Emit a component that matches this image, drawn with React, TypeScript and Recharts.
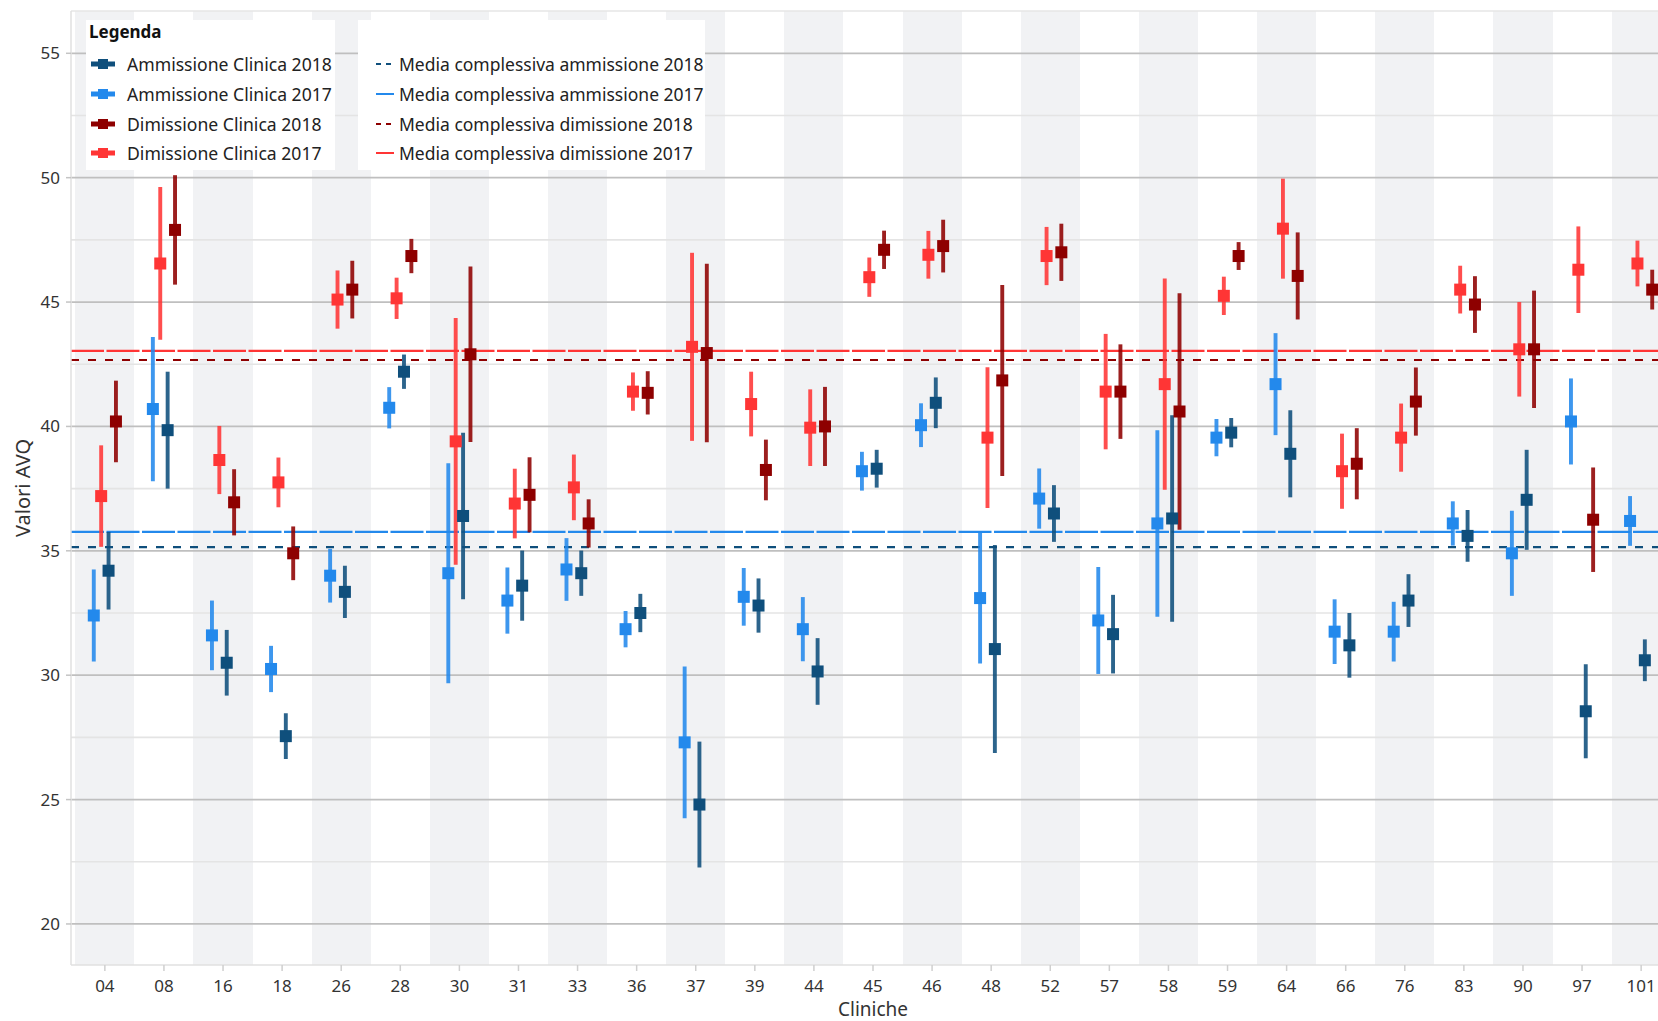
import React from "react";
import { ComposedChart, Scatter, ErrorBar, XAxis, YAxis, CartesianGrid, ReferenceLine } from "recharts";

const cliniche = ["04", "08", "16", "18", "26", "28", "30", "31", "33", "36", "37", "39", "44", "45", "46", "48", "52", "57", "58", "59", "64", "66", "76", "83", "90", "97", "101"];

// medie per clinica e semi-ampiezza dell'intervallo
const ammissione2017 = [32.4, 40.7, 31.6, 30.25, 34.0, 40.75, 34.1, 33.0, 34.25, 31.85, 27.3, 33.15, 31.85, 38.2, 40.05, 33.1, 37.1, 32.2, 36.1, 39.55, 41.7, 31.75, 31.75, 36.1, 34.9, 40.2, 36.2];
const ammissione2017Err = [1.85, 2.9, 1.4, 0.93, 1.08, 0.83, 4.42, 1.33, 1.26, 0.73, 3.05, 1.16, 1.29, 0.78, 0.88, 2.63, 1.21, 2.15, 3.75, 0.75, 2.05, 1.3, 1.2, 0.89, 1.71, 1.73, 1.0];
const ammissione2018 = [34.2, 39.85, 30.5, 27.55, 33.35, 42.2, 36.4, 33.6, 34.1, 32.5, 24.8, 32.8, 30.15, 38.3, 40.95, 31.05, 36.5, 31.65, 36.3, 39.75, 38.9, 31.2, 33.0, 35.6, 37.05, 28.55, 30.6];
const ammissione2018Err = [1.56, 2.35, 1.32, 0.92, 1.05, 0.69, 3.35, 1.41, 0.91, 0.77, 2.53, 1.09, 1.34, 0.76, 1.02, 4.18, 1.14, 1.58, 4.15, 0.59, 1.75, 1.3, 1.06, 1.04, 2.01, 1.89, 0.84];
const dimissione2017 = [37.2, 46.55, 38.65, 37.75, 45.1, 45.15, 39.4, 36.9, 37.55, 41.4, 43.2, 40.9, 39.95, 46.0, 46.9, 39.55, 46.85, 41.4, 41.7, 45.25, 47.95, 38.2, 39.55, 45.5, 43.1, 46.3, 46.55];
const dimissione2017Err = [2.04, 3.07, 1.37, 1.0, 1.17, 0.83, 4.96, 1.4, 1.32, 0.77, 3.78, 1.3, 1.54, 0.79, 0.96, 2.83, 1.17, 2.32, 4.25, 0.77, 2.01, 1.51, 1.37, 0.96, 1.9, 1.74, 0.92];
const dimissione2018 = [40.2, 47.9, 36.95, 34.9, 45.5, 46.85, 42.9, 37.25, 36.1, 41.35, 42.95, 38.25, 40.0, 47.1, 47.25, 41.85, 47.0, 41.4, 40.6, 46.85, 46.05, 38.5, 41.0, 44.9, 43.1, 36.25, 45.5];
const dimissione2018Err = [1.64, 2.2, 1.33, 1.08, 1.16, 0.69, 3.53, 1.51, 0.97, 0.87, 3.59, 1.22, 1.59, 0.77, 1.06, 3.84, 1.15, 1.9, 4.75, 0.56, 1.75, 1.43, 1.37, 1.14, 2.36, 2.1, 0.8];

const mediaAmmissione2018 = 35.15;
const mediaAmmissione2017 = 35.76;
const mediaDimissione2018 = 42.67;
const mediaDimissione2017 = 43.04;

const yTicks = [20, 25, 30, 35, 40, 45, 50, 55];
const yMinor = [22.5, 27.5, 32.5, 37.5, 42.5, 47.5, 52.5];

const BLU_SCURO = "#0f4f7c";
const BLU = "#2389ec";
const ROSSO_SCURO = "#8e0000";
const ROSSO = "#ff3535";
const FONT = "'Noto Sans', sans-serif";

const serie = [
  { nome: "Ammissione Clinica 2017", valori: ammissione2017, err: ammissione2017Err, colore: BLU, dodge: -0.1875 },
  { nome: "Dimissione Clinica 2017", valori: dimissione2017, err: dimissione2017Err, colore: ROSSO, dodge: -0.0625 },
  { nome: "Ammissione Clinica 2018", valori: ammissione2018, err: ammissione2018Err, colore: BLU_SCURO, dodge: 0.0625 },
  { nome: "Dimissione Clinica 2018", valori: dimissione2018, err: dimissione2018Err, colore: ROSSO_SCURO, dodge: 0.1875 },
];

const legendaPunti = [
  { nome: "Ammissione Clinica 2018", colore: BLU_SCURO },
  { nome: "Ammissione Clinica 2017", colore: BLU },
  { nome: "Dimissione Clinica 2018", colore: ROSSO_SCURO },
  { nome: "Dimissione Clinica 2017", colore: ROSSO },
];

const legendaMedie = [
  { nome: "Media complessiva ammissione 2018", colore: BLU_SCURO, dash: "5 5" },
  { nome: "Media complessiva ammissione 2017", colore: BLU, dash: "" },
  { nome: "Media complessiva dimissione 2018", colore: ROSSO_SCURO, dash: "5 5" },
  { nome: "Media complessiva dimissione 2017", colore: ROSSO, dash: "" },
];

const bandEdges = [...cliniche.map((_, i) => i - 0.5), cliniche.length - 0.5];

const quadrato = (colore: string) => (props: any) => (
  <rect x={props.cx - 6} y={props.cy - 6} width={12} height={12} fill={colore} />
);

const righe = [64, 94, 123.5, 153];

export default function App() {
  return (
    <div style={{ position: "absolute", left: 0, top: 0, width: 1658, height: 1021, overflow: "hidden", background: "#fff", fontFamily: FONT }}>
      <ComposedChart width={1675} height={1021} margin={{ top: 11, right: 0, bottom: 0, left: 0 }}>
        <CartesianGrid horizontal={false} verticalValues={bandEdges} verticalFill={["#ffffff", "#f1f2f4"]} stroke="none" />
        <CartesianGrid vertical={false} horizontalValues={yMinor} stroke="#e4e4e4" strokeWidth={1.6} />
        <CartesianGrid vertical={false} horizontalValues={yTicks} stroke="#bfbfbf" strokeWidth={1.8} />
        <XAxis
          type="number"
          dataKey="x"
          domain={[-0.573, 26.573]}
          ticks={cliniche.map((_, i) => i)}
          interval={0}
          allowDataOverflow
          tickFormatter={(v: number) => cliniche[v] ?? ""}
          height={56}
          tickSize={6}
          tickMargin={9}
          axisLine={{ stroke: "#e0e0e0", strokeWidth: 1.5 }}
          tickLine={{ stroke: "#cfcfcf", strokeWidth: 1.5 }}
          tick={{ fill: "#333", fontSize: 17, fontFamily: FONT }}
          label={{ value: "Cliniche", position: "insideBottom", offset: 5, fill: "#333", fontSize: 19, fontFamily: FONT }}
        />
        <YAxis
          type="number"
          dataKey="y"
          domain={[18.35, 56.7]}
          ticks={yTicks}
          interval={0}
          allowDataOverflow
          width={71}
          tickSize={5}
          tickMargin={6}
          axisLine={{ stroke: "#e0e0e0", strokeWidth: 1.5 }}
          tickLine={{ stroke: "#c4c4c4", strokeWidth: 1.5 }}
          tick={{ fill: "#333", fontSize: 17, fontFamily: FONT }}
          label={{ value: "Valori AVQ", angle: -90, position: "insideLeft", offset: 23, style: { textAnchor: "middle" }, fill: "#333", fontSize: 20, fontFamily: FONT }}
        />
        <ReferenceLine y={56.7} stroke="#e6e6e6" strokeWidth={1.5} ifOverflow="extendDomain" />
        <ReferenceLine y={mediaDimissione2017} stroke={ROSSO} strokeWidth={2.2} strokeDasharray="33 2.5" />
        <ReferenceLine y={mediaDimissione2018} stroke={ROSSO_SCURO} strokeWidth={2.2} strokeDasharray="8 9" />
        <ReferenceLine y={mediaAmmissione2017} stroke={BLU} strokeWidth={2.2} strokeDasharray="33 2.5" />
        <ReferenceLine y={mediaAmmissione2018} stroke={BLU_SCURO} strokeWidth={2.2} strokeDasharray="8 9" />
        {serie.map((s) => (
          <Scatter
            key={s.nome}
            name={s.nome}
            data={s.valori.map((y, i) => ({ x: i + s.dodge, y, err: s.err[i] }))}
            shape={quadrato(s.colore)}
            isAnimationActive={false}
          >
            <ErrorBar dataKey="err" direction="y" width={0} stroke={s.colore} strokeWidth={3.9} strokeOpacity={0.88} />
          </Scatter>
        ))}
      </ComposedChart>

      <div style={{ position: "absolute", left: 86, top: 20, width: 249, height: 150, background: "#fff" }}>
        <div style={{ position: "absolute", left: 3, top: 0, fontSize: 17, fontWeight: 700, color: "#111", lineHeight: "23px" }}>Legenda</div>
        {legendaPunti.map((l, k) => (
          <div key={l.nome} style={{ position: "absolute", left: 4, top: righe[k] - 20 - 12, height: 24, display: "flex", alignItems: "center", fontSize: 17.6, color: "#222", whiteSpace: "nowrap" }}>
            <svg width={26} height={12} style={{ marginRight: 11 }}>
              <rect x={1} y={3.5} width={24} height={5} fill={l.colore} />
              <rect x={8} y={1} width={10} height={10} fill={l.colore} />
            </svg>
            {l.nome}
          </div>
        ))}
      </div>
      <div style={{ position: "absolute", left: 358, top: 20, width: 347, height: 150, background: "#fff" }}>
        {legendaMedie.map((l, k) => (
          <div key={l.nome} style={{ position: "absolute", left: 18, top: righe[k] - 20 - 12, height: 24, display: "flex", alignItems: "center", fontSize: 17.5, color: "#222", whiteSpace: "nowrap" }}>
            <svg width={18} height={4} style={{ marginRight: 5 }}>
              <line x1={0} y1={2} x2={18} y2={2} stroke={l.colore} strokeWidth={2} strokeDasharray={l.dash || undefined} />
            </svg>
            {l.nome}
          </div>
        ))}
      </div>
    </div>
  );
}
